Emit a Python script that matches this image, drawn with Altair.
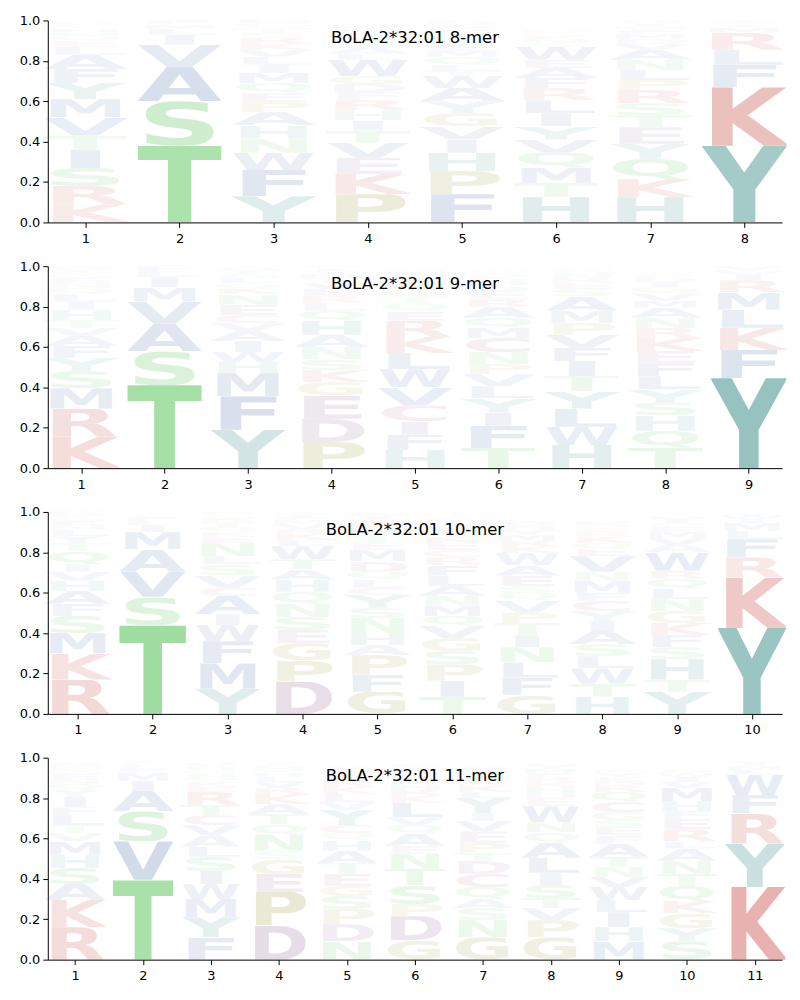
import base64
import altair as alt
import pandas as pd

# ---------------- data: letter probabilities per position, bottom -> top ----------------
TITLES = ["BoLA-2*32:01 8-mer", "BoLA-2*32:01 9-mer", "BoLA-2*32:01 10-mer", "BoLA-2*32:01 11-mer"]

MER8 = [
    [("K", .09), ("R", .09), ("S", .09), ("I", .09), ("T", .07), ("V", .09), ("M", .09), ("Y", .08), ("F", .07), ("A", .07),
     ("L", .04), ("E", .03), ("Q", .02), ("N", .02), ("H", .02), ("G", .01), ("P", .01), ("D", .01)],
    [("T", .38), ("S", .22), ("A", .17), ("V", .11), ("I", .05), ("L", .03), ("M", .02), ("F", .02)],
    [("Y", .13), ("F", .13), ("W", .085), ("N", .07), ("H", .065), ("A", .065), ("P", .05), ("E", .045), ("Q", .05), ("M", .05),
     ("I", .04), ("L", .04), ("V", .035), ("K", .03), ("R", .03), ("S", .025), ("T", .025), ("G", .02), ("D", .015), ("C", .005)],
    [("P", .14), ("K", .10), ("E", .08), ("V", .075), ("T", .06), ("I", .05), ("H", .05), ("R", .05), ("F", .04), ("D", .04),
     ("G", .04), ("W", .08), ("L", .03), ("A", .03), ("S", .03), ("Y", .025), ("N", .02), ("M", .02), ("Q", .015), ("C", .01)],
    [("F", .14), ("P", .115), ("H", .09), ("I", .065), ("V", .065), ("G", .065), ("Y", .06), ("A", .065), ("W", .06), ("T", .025),
     ("L", .03), ("Q", .04), ("M", .03), ("E", .03), ("S", .03), ("N", .025), ("K", .02), ("R", .02), ("D", .015), ("C", .01)],
    [("H", .125), ("T", .07), ("M", .075), ("Q", .075), ("V", .065), ("Y", .065), ("I", .065), ("L", .065), ("R", .06), ("F", .05),
     ("A", .05), ("E", .04), ("W", .065), ("S", .02), ("N", .02), ("K", .015), ("G", .01), ("P", .01), ("D", .01), ("C", .005)],
    [("H", .125), ("K", .09), ("Q", .10), ("Y", .075), ("E", .08), ("T", .06), ("S", .06), ("R", .065), ("P", .05), ("L", .05),
     ("N", .05), ("A", .05), ("V", .03), ("D", .025), ("M", .025), ("F", .02), ("G", .015), ("I", .015), ("W", .01), ("C", .005)],
    [("Y", .38), ("K", .29), ("F", .11), ("L", .075), ("R", .085), ("M", .025), ("I", .015), ("W", .01), ("V", .01)],
]

MER9 = [
    [("K", .155), ("R", .14), ("M", .10), ("S", .085), ("Y", .065), ("F", .06), ("A", .05), ("V", .04), ("T", .04), ("H", .05),
     ("I", .04), ("L", .035), ("Q", .03), ("N", .025), ("E", .025), ("G", .02), ("P", .015), ("D", .01), ("W", .01), ("C", .005)],
    [("T", .41), ("S", .17), ("A", .135), ("V", .11), ("M", .07), ("I", .05), ("L", .03), ("F", .025)],
    [("Y", .19), ("F", .165), ("M", .115), ("H", .055), ("W", .05), ("I", .055), ("A", .05), ("V", .04), ("C", .04), ("E", .05),
     ("N", .05), ("K", .03), ("Q", .025), ("L", .025), ("S", .02), ("T", .02), ("R", .01), ("G", .005), ("P", .005)],
    [("P", .13), ("D", .115), ("E", .115), ("G", .065), ("K", .06), ("S", .055), ("N", .06), ("A", .06), ("H", .07), ("Q", .05),
     ("L", .04), ("R", .035), ("F", .03), ("V", .03), ("T", .025), ("M", .02), ("Y", .015), ("I", .015), ("W", .01), ("C", .005)],
    [("H", .09), ("F", .075), ("I", .065), ("C", .08), ("V", .09), ("W", .09), ("L", .08), ("K", .08), ("R", .08), ("E", .045),
     ("Q", .04), ("T", .035), ("G", .03), ("S", .03), ("A", .025), ("Y", .02), ("M", .015), ("N", .01), ("D", .005), ("P", .005)],
    [("T", .10), ("F", .11), ("I", .065), ("Y", .07), ("L", .06), ("V", .06), ("P", .05), ("N", .06), ("C", .07), ("M", .05),
     ("Q", .05), ("A", .055), ("R", .04), ("E", .035), ("S", .03), ("H", .025), ("K", .02), ("G", .015), ("W", .01), ("D", .005)],
    [("H", .115), ("W", .09), ("L", .09), ("Y", .085), ("T", .075), ("I", .075), ("F", .065), ("V", .065), ("P", .06), ("M", .06),
     ("A", .07), ("S", .035), ("E", .03), ("R", .025), ("N", .02), ("Q", .015), ("K", .01), ("G", .01), ("D", .005), ("C", .005)],
    [("T", .10), ("Q", .085), ("H", .075), ("S", .065), ("Y", .065), ("L", .065), ("F", .065), ("E", .06), ("K", .065), ("R", .05),
     ("N", .05), ("A", .05), ("M", .035), ("V", .035), ("G", .03), ("I", .025), ("D", .02), ("P", .015), ("W", .01), ("C", .005)],
    [("Y", .445), ("F", .14), ("K", .11), ("L", .09), ("M", .085), ("R", .06), ("I", .03), ("W", .02), ("V", .02)],
]

MER10 = [
    [("R", .17), ("K", .13), ("M", .10), ("S", .085), ("F", .06), ("A", .065), ("H", .05), ("V", .045), ("I", .035), ("Q", .065),
     ("T", .04), ("Y", .035), ("L", .03), ("N", .025), ("E", .02), ("G", .015), ("P", .015), ("D", .01), ("W", .01), ("C", .005)],
    [("T", .44), ("S", .14), ("V", .125), ("A", .11), ("M", .085), ("I", .035), ("L", .02), ("F", .02), ("C", .01)],
    [("Y", .125), ("M", .125), ("F", .11), ("W", .08), ("I", .055), ("A", .09), ("C", .04), ("V", .06), ("S", .055), ("L", .04),
     ("N", .065), ("E", .03), ("K", .025), ("Q", .025), ("T", .02), ("R", .02), ("G", .015), ("P", .01), ("H", .01), ("D", .005)],
    [("D", .16), ("P", .105), ("G", .085), ("E", .065), ("S", .065), ("N", .065), ("Q", .06), ("H", .06), ("A", .05), ("T", .05),
     ("W", .065), ("L", .03), ("K", .03), ("R", .025), ("V", .025), ("M", .02), ("F", .015), ("Y", .015), ("I", .01), ("C", .005)],
    [("G", .11), ("F", .085), ("P", .095), ("A", .05), ("H", .06), ("N", .075), ("S", .05), ("Y", .065), ("C", .035), ("L", .04),
     ("Q", .04), ("D", .05), ("M", .055), ("E", .035), ("T", .035), ("V", .03), ("K", .025), ("R", .025), ("I", .02), ("W", .015)],
    [("T", .085), ("I", .08), ("P", .08), ("S", .065), ("G", .065), ("V", .06), ("Q", .05), ("M", .05), ("N", .05), ("A", .05),
     ("L", .05), ("F", .05), ("R", .04), ("C", .035), ("E", .035), ("K", .03), ("Y", .03), ("H", .025), ("W", .02), ("D", .015)],
    [("G", .095), ("F", .085), ("L", .075), ("N", .075), ("I", .06), ("T", .06), ("P", .05), ("V", .06), ("Q", .04), ("S", .035),
     ("E", .05), ("A", .05), ("W", .06), ("K", .03), ("R", .03), ("M", .03), ("Y", .025), ("H", .02), ("D", .02), ("C", .01)],
    [("H", .085), ("T", .065), ("W", .075), ("L", .06), ("S", .06), ("A", .065), ("I", .05), ("Y", .05), ("C", .05), ("F", .04),
     ("M", .06), ("N", .045), ("V", .075), ("E", .035), ("Q", .03), ("K", .03), ("R", .025), ("G", .02), ("P", .02), ("D", .015)],
    [("Y", .11), ("T", .06), ("H", .10), ("S", .06), ("F", .06), ("K", .06), ("G", .06), ("N", .06), ("L", .05), ("Q", .05),
     ("R", .04), ("W", .09), ("A", .035), ("V", .035), ("M", .03), ("E", .025), ("P", .02), ("I", .02), ("D", .01), ("C", .005)],
    [("Y", .425), ("K", .25), ("R", .10), ("F", .09), ("L", .04), ("M", .04), ("I", .02), ("W", .02), ("V", .01)],
]

MER11 = [
    [("R", .16), ("K", .135), ("A", .08), ("S", .08), ("H", .065), ("M", .065), ("V", .04), ("T", .04), ("L", .05), ("F", .04),
     ("I", .05), ("Y", .035), ("Q", .03), ("N", .025), ("E", .025), ("G", .02), ("P", .015), ("D", .015), ("W", .01), ("C", .005)],
    [("T", .395), ("V", .19), ("S", .15), ("A", .10), ("I", .05), ("M", .04), ("F", .02), ("L", .02), ("C", .01), ("Y", .01)],
    [("F", .11), ("Y", .10), ("M", .09), ("W", .075), ("I", .065), ("S", .07), ("L", .05), ("A", .055), ("V", .05), ("C", .05),
     ("T", .05), ("R", .065), ("E", .025), ("K", .025), ("Q", .02), ("N", .02), ("G", .02), ("H", .015), ("P", .01), ("D", .01)],
    [("D", .17), ("P", .165), ("E", .09), ("G", .075), ("S", .04), ("N", .08), ("Q", .05), ("T", .05), ("A", .05), ("K", .05),
     ("R", .03), ("V", .03), ("L", .025), ("H", .02), ("Y", .015), ("M", .015), ("F", .01), ("I", .01), ("W", .005), ("C", .005)],
    [("N", .09), ("D", .085), ("P", .075), ("S", .065), ("G", .05), ("E", .06), ("T", .055), ("A", .06), ("H", .05), ("Q", .035),
     ("C", .04), ("Y", .075), ("V", .04), ("L", .04), ("K", .035), ("R", .035), ("F", .025), ("M", .02), ("I", .015), ("W", .01)],
    [("G", .095), ("D", .12), ("P", .06), ("S", .095), ("T", .08), ("N", .075), ("E", .04), ("A", .06), ("Q", .04), ("V", .04),
     ("L", .07), ("K", .035), ("R", .03), ("H", .03), ("Y", .025), ("F", .02), ("M", .02), ("I", .015), ("C", .01), ("W", .01)],
    [("G", .11), ("N", .085), ("S", .06), ("A", .045), ("Q", .06), ("C", .065), ("D", .065), ("T", .04), ("P", .05), ("E", .055),
     ("V", .05), ("I", .04), ("Y", .075), ("L", .03), ("K", .03), ("R", .025), ("H", .025), ("F", .02), ("M", .02), ("W", .01)],
    [("G", .11), ("P", .085), ("V", .06), ("T", .05), ("S", .065), ("I", .06), ("L", .075), ("A", .075), ("Q", .05), ("N", .05),
     ("W", .08), ("E", .035), ("D", .03), ("H", .03), ("K", .025), ("R", .025), ("F", .02), ("M", .02), ("Y", .02), ("C", .01)],
    [("M", .09), ("H", .07), ("I", .075), ("L", .06), ("W", .065), ("V", .05), ("N", .05), ("T", .05), ("A", .065), ("F", .04),
     ("E", .04), ("S", .035), ("G", .04), ("C", .05), ("Q", .05), ("R", .03), ("D", .025), ("K", .02), ("Y", .02), ("P", .015)],
    [("S", .09), ("Y", .065), ("G", .075), ("K", .06), ("Q", .075), ("T", .06), ("N", .065), ("A", .06), ("L", .035), ("R", .06),
     ("E", .05), ("F", .04), ("H", .05), ("M", .065), ("V", .03), ("I", .025), ("W", .02), ("D", .015), ("P", .01), ("C", .005)],
    [("K", .36), ("Y", .215), ("R", .15), ("F", .09), ("W", .10), ("L", .025), ("M", .02), ("I", .015), ("V", .01)],
]

PANELS = [MER8, MER9, MER10, MER11]

# ---------------- styles ----------------
GROUP_COLORS = {
    "TSNQ": "#28b428",
    "KR": "#be2d23",
    "YH": "#147873",
    "PG": "#808000",
    "DE": "#733c7d",
    "AVILMFW": "#1e4696",
    "C": "#aa285a",
}
COLOR = {ch: col for grp, col in GROUP_COLORS.items() for ch in grp}
FONT = "DejaVu Sans"
HALF_W = 0.45


def glyph_url(letter):
    col = COLOR[letter]
    if letter == "I":
        svg = ("<svg xmlns='http://www.w3.org/2000/svg' viewBox='0 -729 540 729' preserveAspectRatio='none'>"
               f"<text x='270' y='0' text-anchor='middle' font-family='{FONT}' font-weight='bold' "
               f"font-size='1000' fill='{col}'>I</text></svg>")
    else:
        top, bot = -729, 0
        if letter in "CGOS":
            top, bot = -745, 14
        if letter == "Q":
            top, bot = -745, 150
        svg = (f"<svg xmlns='http://www.w3.org/2000/svg' viewBox='0 {top} 600 {bot - top}' preserveAspectRatio='none'>"
               f"<text x='0' y='0' textLength='600' lengthAdjust='spacingAndGlyphs' font-family='{FONT}' "
               f"font-weight='bold' font-size='1000' fill='{col}'>{letter}</text></svg>")
    return "data:image/svg+xml;base64," + base64.b64encode(svg.encode()).decode()


URLS = {ch: glyph_url(ch) for ch in COLOR}


def panel(data, title):
    rows = []
    n = len(data)
    for i, column in enumerate(data, start=1):
        acc = 0.0
        for letter, p in column:
            rows.append({"pos": i, "letter": letter, "h": p, "y0": acc, "y1": acc + p,
                         "x0": i - HALF_W, "x1": i + HALF_W, "url": URLS[letter]})
            acc += p
    df = pd.DataFrame(rows)
    glyphs = alt.Chart(df).mark_image(aspect=False).encode(
        x=alt.X("x0:Q", scale=alt.Scale(domain=[0.6, n + 0.4], nice=False, zero=False),
                axis=alt.Axis(values=list(range(1, n + 1)), format="d", title=None, labelPadding=5)),
        x2="x1:Q",
        y=alt.Y("y0:Q", scale=alt.Scale(domain=[0, 1], nice=False, zero=False),
                axis=alt.Axis(values=[0, 0.2, 0.4, 0.6, 0.8, 1.0], format=".1f", title=None,
                              minExtent=34, maxExtent=34)),
        y2="y1:Q",
        url="url:N",
        opacity=alt.Opacity("h:Q", scale=None, legend=None),
    )
    ttl = alt.Chart(pd.DataFrame({"t": [title]})).mark_text(
        font=FONT, fontSize=16.5, color="black", align="center", baseline="alphabetic"
    ).encode(text="t:N", x=alt.value(369), y=alt.value(23))
    return alt.layer(glyphs, ttl).properties(width=738, height=203)


chart = alt.vconcat(
    *[panel(d, t) for d, t in zip(PANELS, TITLES)], spacing=44, bounds="flush"
).properties(
    padding={"left": 6, "top": 4, "right": 5, "bottom": 5}
).configure_view(stroke=None).configure_axis(
    grid=False, domainColor="black", domainWidth=1, tickColor="black", tickWidth=1, tickSize=5,
    labelColor="black", labelFont=FONT, labelFontSize=13, labelPadding=3,
)

chart.save("out.html", embed_options={"renderer": "svg", "actions": False})
